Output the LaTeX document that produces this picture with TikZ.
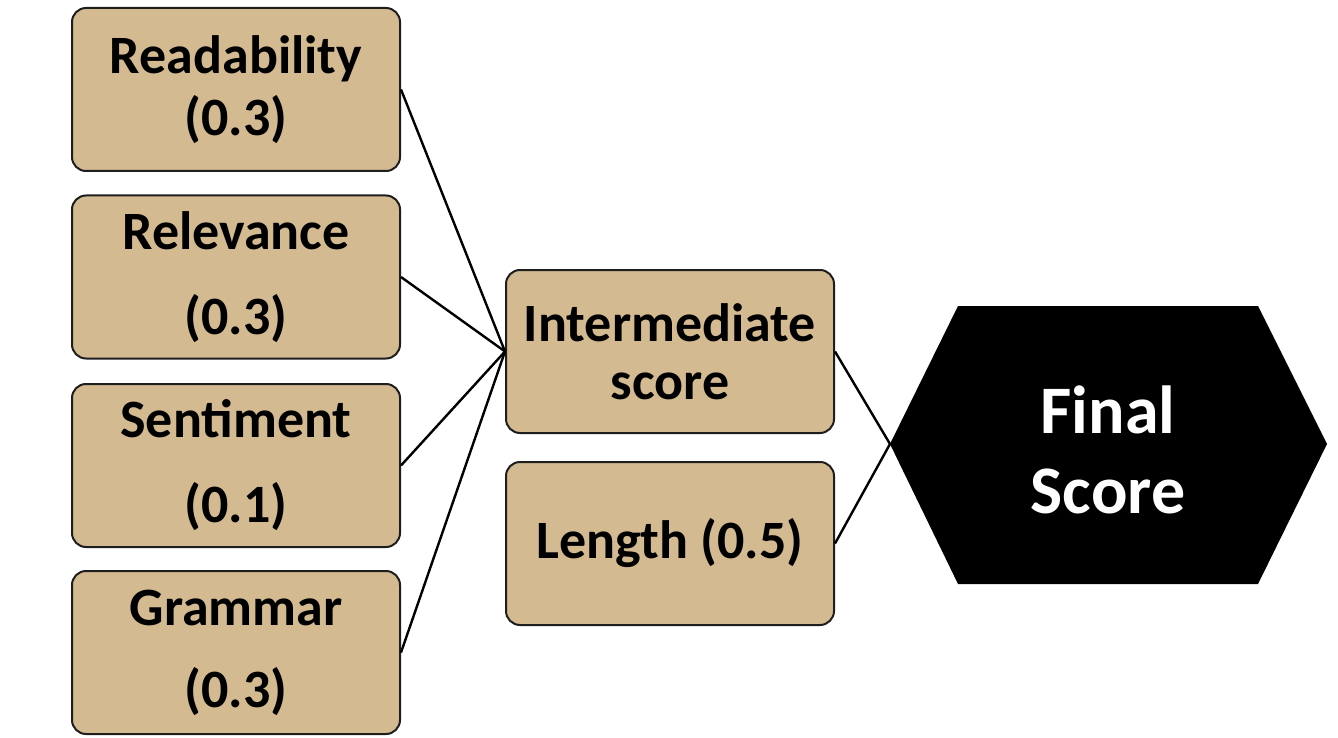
\documentclass[tikz,border=0pt]{standalone}
\usepackage{fontspec}
\setmainfont{Carlito}
\definecolor{tan}{RGB}{211,186,145}
\definecolor{edge}{RGB}{30,30,30}
\begin{document}
\begin{tikzpicture}[x=1pt,y=-1pt,
  box/.style={draw=edge,fill=tan,line width=2pt,rounded corners=14pt,
    minimum width=328pt,minimum height=163pt,inner sep=0pt,align=center,
    font=\fontsize{54}{62}\selectfont\bfseries},
  link/.style={draw=black,line width=2.4pt}]
\useasboundingbox (0,0) rectangle (1338,738);
\node[box] (rd) at (236,89.5) {Readability\\(0.3)};
\node[box] (rl) at (236,277) {Relevance\\[23pt](0.3)};
\node[box] (se) at (236,465.5) {Sentiment\\[23pt](0.1)};
\node[box] (gr) at (236,652.5) {Grammar\\[20pt](0.3)};
\node[box] (im) at (670,351.5) {Intermediate\\[-4pt]score};
\node[box] (ln) at (670,543.5) {Length (0.5)};
\fill[black] (890,444) -- (958,306) -- (1258,306) -- (1327,444) -- (1258,584) -- (958,584) -- cycle;
\coordinate (fs) at (890,444);
\node[text=white,align=center,font=\fontsize{68}{80}\selectfont\bfseries] (fst) at (1108,450) {Final\\Score};
\draw[link] (rd.east) -- (im.west);
\draw[link] (rl.east) -- (im.west);
\draw[link] (se.east) -- (im.west);
\draw[link] (gr.east) -- (im.west);
\draw[link] (im.east) -- (fs);
\draw[link] (ln.east) -- (fs);
\end{tikzpicture}
\end{document}
